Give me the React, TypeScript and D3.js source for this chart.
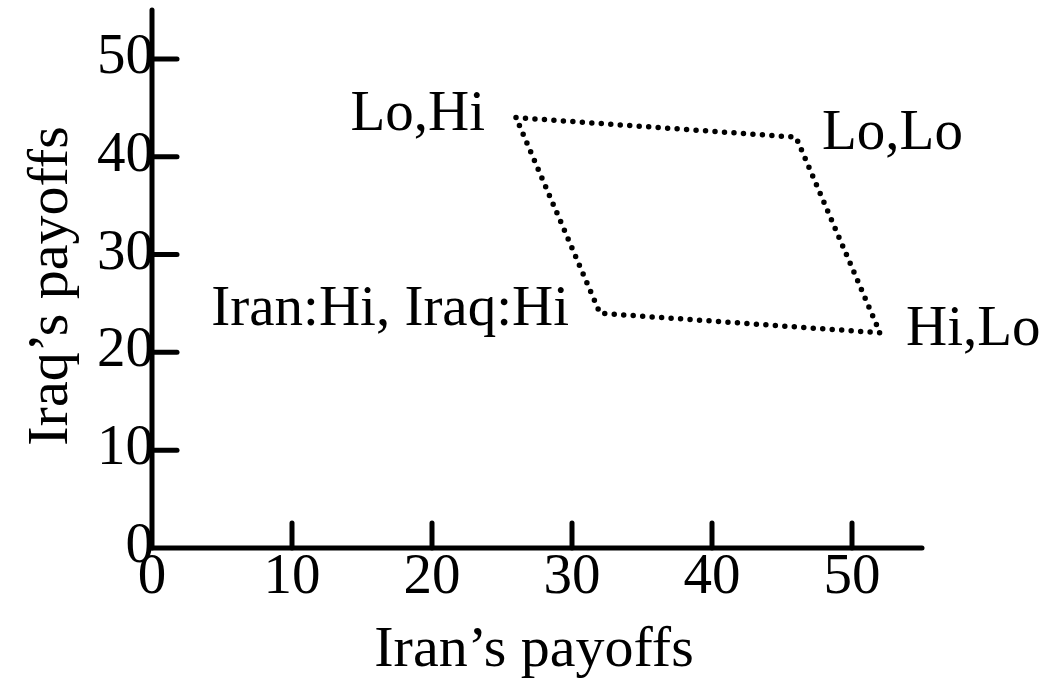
import React from 'react';
import * as d3 from 'd3';

// outcome labels and payoffs (Iran, Iraq)
const outcomeLabels = ['Lo,Hi', 'Lo,Lo', 'Hi,Lo', 'Iran:Hi, Iraq:Hi'];
const iranPayoffs = [26, 46, 52, 32];
const iraqPayoffs = [44, 42, 22, 24];
const labelSide = ['left', 'right', 'right', 'left'];
const xTicks = [0, 10, 20, 30, 40, 50];
const yTicks = [0, 10, 20, 30, 40, 50];

const W = 1047;
const H = 682;
const FONT = '"Liberation Serif", "Times New Roman", serif';
const FS = 57;

export default function App() {
  const x = d3.scaleLinear().domain([0, 55]).range([152, 922]);
  const y = d3.scaleLinear().domain([0, 55]).range([548, 10]);

  const pts: [number, number][] = iranPayoffs.map((v, i) => [x(v), y(iraqPayoffs[i])]);
  const path = d3.line().curve(d3.curveLinearClosed)(pts) || '';

  return (
    <svg width={W} height={H} style={{ position: 'absolute', left: 0, top: 0, background: '#fff' }}>
      <g fontFamily={FONT} fontSize={FS} fill="#000">
        {/* axes */}
        <line x1={x(0)} y1={y(0)} x2={x(55)} y2={y(0)} stroke="#000" strokeWidth={5} strokeLinecap="round" />
        <line x1={x(0)} y1={y(0)} x2={x(0)} y2={y(55)} stroke="#000" strokeWidth={5} strokeLinecap="round" />
        {xTicks.map((t) => (
          <g key={'x' + t}>
            {t > 0 && (
              <line x1={x(t)} x2={x(t)} y1={y(0)} y2={y(0) - 25} stroke="#000" strokeWidth={5} strokeLinecap="round" />
            )}
            <text x={x(t)} y={y(0) + 45} textAnchor="middle">{t}</text>
          </g>
        ))}
        {yTicks.map((t) => (
          <g key={'y' + t}>
            {t > 0 && (
              <line x1={x(0)} x2={x(0) + 25} y1={y(t)} y2={y(t)} stroke="#000" strokeWidth={5} strokeLinecap="round" />
            )}
            <text x={x(0) + 2} y={y(t) + 14} textAnchor="end">{t}</text>
          </g>
        ))}
        <text x={534} y={666} textAnchor="middle" fontSize={58}>Iran’s payoffs</text>
        <text transform={`translate(67,${286}) rotate(-90)`} textAnchor="middle" fontSize={58}>Iraq’s payoffs</text>

        {/* payoff region */}
        <path d={path} fill="none" stroke="#000" strokeWidth={5.5} strokeLinecap="round" strokeDasharray="0 9.5" />
        {outcomeLabels.map((lab, i) => (
          <text
            key={lab}
            x={pts[i][0] + (labelSide[i] === 'left' ? -31 : 26)}
            y={pts[i][1] + 12}
            textAnchor={labelSide[i] === 'left' ? 'end' : 'start'}
          >
            {lab}
          </text>
        ))}
      </g>
    </svg>
  );
}
